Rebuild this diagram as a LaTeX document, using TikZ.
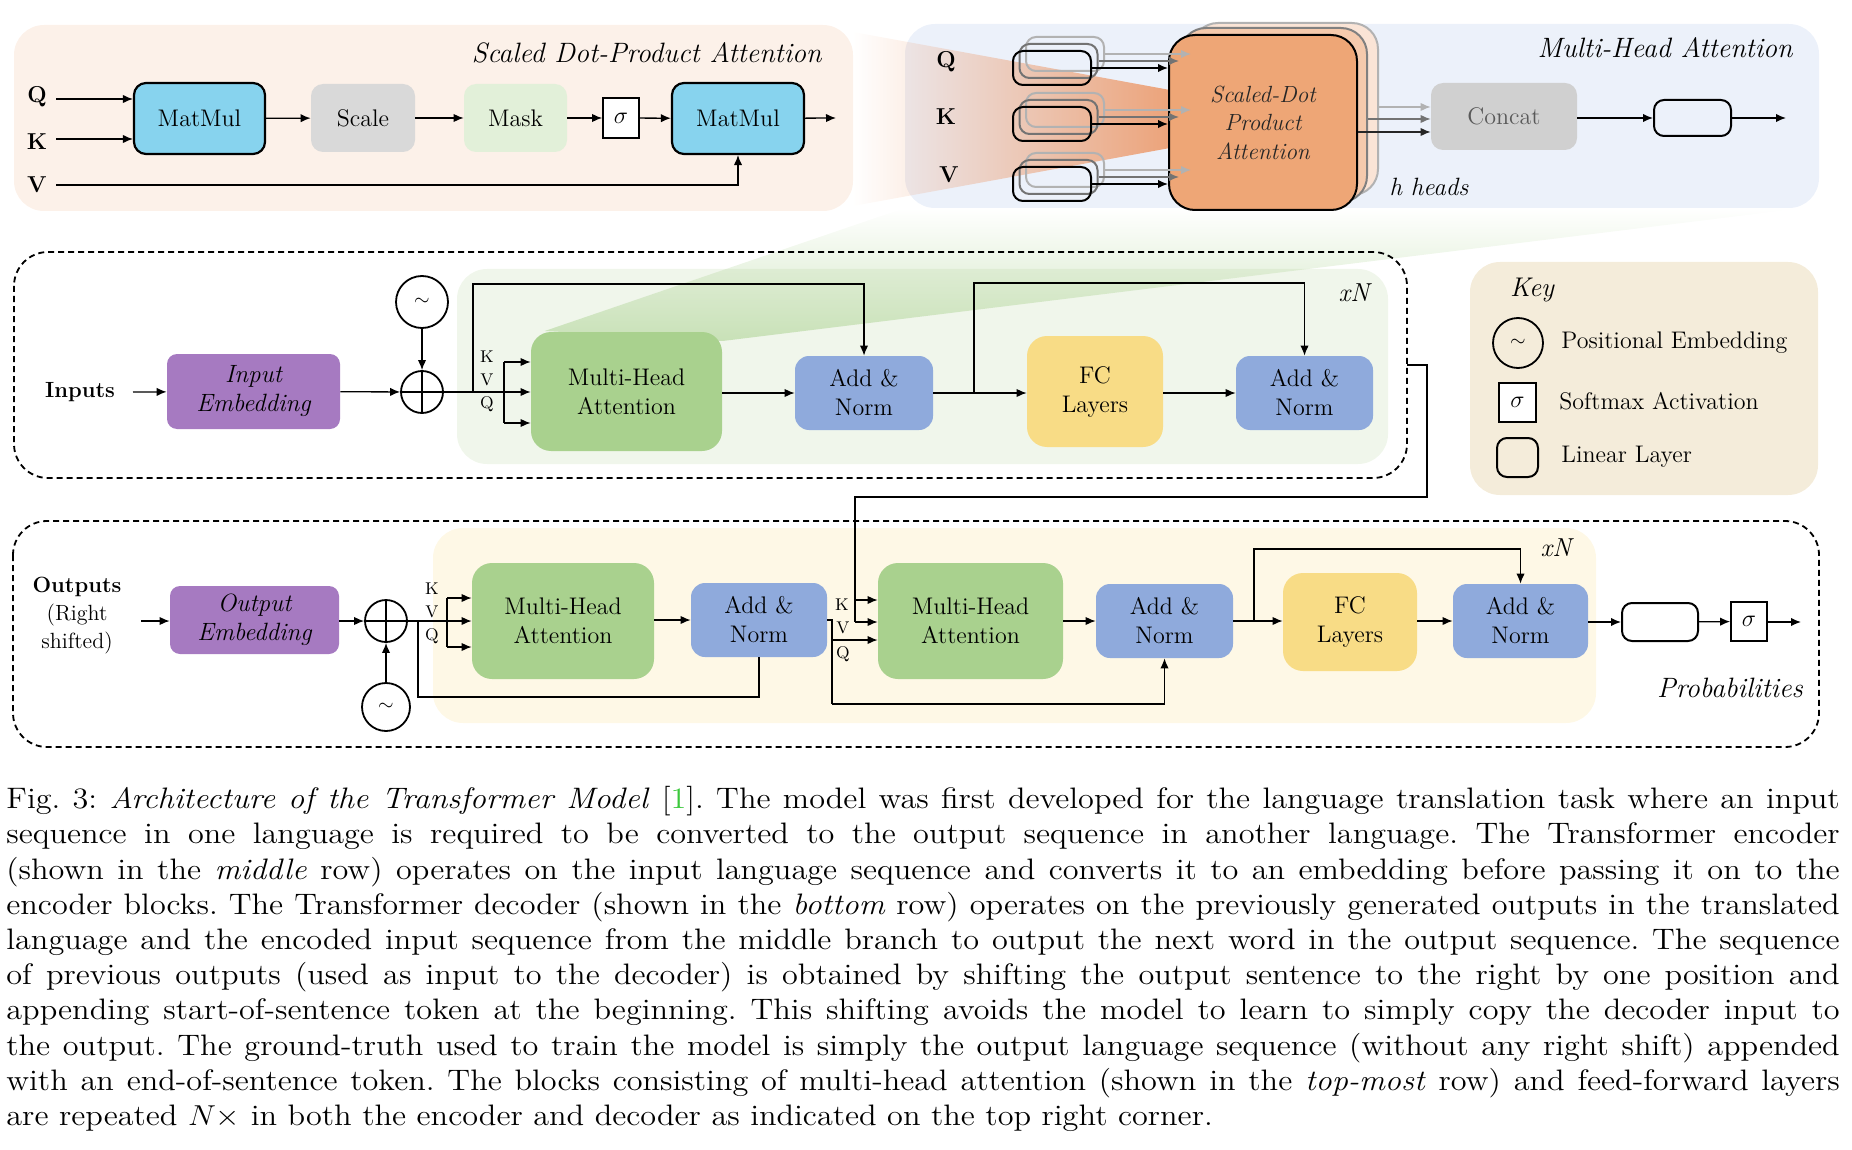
\documentclass[tikz,border=0pt]{standalone}
\usepackage{graphicx}
\usetikzlibrary{arrows.meta,fadings,calc}
\definecolor{sdpabg}{RGB}{252,241,233}
\definecolor{mhabg}{RGB}{236,241,250}
\definecolor{matmul}{RGB}{135,211,238}
\definecolor{scalec}{RGB}{217,217,217}
\definecolor{maskc}{RGB}{226,240,217}
\definecolor{sdpaor}{RGB}{238,166,118}
\definecolor{wedgeor}{RGB}{236,150,100}
\definecolor{concatc}{RGB}{208,208,208}
\definecolor{purp}{RGB}{166,122,193}
\definecolor{mhag}{RGB}{169,209,142}
\definecolor{anb}{RGB}{143,170,220}
\definecolor{fcy}{RGB}{248,220,134}
\definecolor{encbg}{RGB}{240,246,235}
\definecolor{decbg}{RGB}{254,248,230}
\definecolor{keybg}{RGB}{244,236,218}
\definecolor{citeg}{RGB}{60,200,60}
\newcommand\mybox[7]{\node[#6, minimum width=#4*0.5pt, minimum height=#5*0.5pt] (#1) at (#2,#3) {#7};}
\newcommand\capline[1]{\scalebox{1.09}[1]{\makebox[841pt][s]{#1}}}
\newcommand\caplast[1]{\scalebox{1.09}[1]{#1}}
\begin{document}
\begin{tikzpicture}[x=0.5pt,y=-0.5pt,
  arr/.style={-{Latex[length=5pt,width=4.2pt]}, line width=0.65pt},
  ln/.style={line width=0.65pt},
  blk/.style={rounded corners=7pt, align=center, inner sep=0pt, font=\fontsize{12}{14.5}\selectfont},
  mmbox/.style={blk, fill=matmul, draw=black, line width=1.1pt, rounded corners=6pt},
  sigbox/.style={draw=black, line width=0.9pt, fill=white, inner sep=0pt, font=\fontsize{12}{14}\selectfont},
  linbox/.style={draw=black, line width=1pt, rounded corners=5pt, inner sep=0pt},
  embox/.style={blk, fill=purp, rounded corners=5pt, font=\fontsize{12.5}{14.5}\selectfont\itshape},
  mhbox/.style={blk, fill=mhag, rounded corners=10pt},
  anbox/.style={blk, fill=anb},
  fcbox/.style={blk, fill=fcy, rounded corners=10pt},
  sdbox/.style={blk, rounded corners=13pt, line width=1pt},
  circ/.style={circle, draw=black, line width=0.9pt, inner sep=0pt, font=\fontsize{10}{10}\selectfont},
  kvq/.style={font=\fontsize{8.5}{9}\selectfont, inner sep=0pt},
  qkv/.style={font=\fontsize{11.5}{12}\selectfont\bfseries, inner sep=0pt},
  ttl/.style={font=\fontsize{14}{15}\selectfont\itshape, inner sep=0pt},
  keytxt/.style={font=\fontsize{12}{13}\selectfont, inner sep=0pt, anchor=west},
  dashbox/.style={draw=black, line width=0.9pt, dash pattern=on 3pt off 2pt, rounded corners=17pt}
]
\useasboundingbox (0,0) rectangle (1852,1150);

% ---------- panels and regions ----------
\fill[sdpabg, rounded corners=15pt] (14,25) rectangle (853,211);
\fill[mhabg, rounded corners=15pt] (905,24) rectangle (1819,208);
\fill[encbg, rounded corners=15pt] (457,269) rectangle (1388,464);
\fill[decbg, rounded corners=15pt] (433,528) rectangle (1596,723);
\fill[keybg, rounded corners=15pt] (1470,262) rectangle (1818,495);

% ---------- wedges ----------
\fill[wedgeor, path fading=west, fill opacity=0.85] (853,32) -- (1170,90) -- (1170,148) -- (853,206) -- cycle;
\fill[mhag, path fading=north, fill opacity=0.55] (545,331) -- (723,341) -- (1805,208) -- (905,208) -- cycle;

% ---------- dashed blocks ----------
\draw[dashbox] (14,252) rectangle (1407,478);
\draw[dashbox] (13,521) rectangle (1819,747);

% ---------- Scaled Dot-Product Attention ----------
\node[ttl, anchor=base east] (ttl1) at (822,63) {Scaled Dot-Product Attention};
\node[qkv] (q1) at (37,97) {Q};
\node[qkv] (k1) at (37,142) {K};
\node[qkv] (v1) at (37,185) {V};
\coordinate (qin) at (56,99);
\coordinate (kin) at (56,139);
\coordinate (vin) at (56,185);
\mybox{mm1}{199.5}{118.5}{131}{71}{mmbox}{MatMul}
\mybox{scl}{363}{118}{104}{68}{blk, fill=scalec, rounded corners=6pt}{Scale}
\mybox{msk}{515.5}{118}{103}{68}{blk, fill=maskc, rounded corners=6pt}{Mask}
\mybox{sg1}{621}{118}{36}{40}{sigbox}{$\sigma$}
\mybox{mm2}{738}{118.5}{132}{71}{mmbox}{MatMul}
\coordinate (o1) at (836,118);
\draw[arr] (qin) -- (qin -| mm1.west);
\draw[arr] (kin) -- (kin -| mm1.west);
\draw[arr] (vin) -| (mm2.south);
\draw[arr] (mm1) -- (scl);
\draw[arr] (scl) -- (msk);
\draw[arr] (msk) -- (sg1);
\draw[arr] (sg1) -- (mm2);
\draw[arr] (mm2) -- (o1);

% ---------- Multi-Head Attention ----------
\node[ttl, anchor=base east] (ttl2) at (1793,58) {Multi-Head Attention};
\node[qkv] (q2) at (946,62) {Q};
\node[qkv] (k2) at (946,117) {K};
\node[qkv] (v2) at (949,175) {V};
\foreach \r/\yy in {q/68,k/124,v/184}{
  \mybox{l\r3}{1065}{\yy-14}{78}{34}{linbox, draw=black!30}{}
  \mybox{l\r2}{1058.5}{\yy-7}{78}{34}{linbox, draw=black!55}{}
  \mybox{l\r1}{1052}{\yy}{78}{34}{linbox}{}
}
\mybox{sd3}{1285}{109}{186}{172}{sdbox, fill=sdpaor!30!white, draw=black!30}{}
\mybox{sd2}{1273.5}{115}{187}{174}{sdbox, fill=sdpaor!60!white, draw=black!50}{}
\mybox{sd1}{1263}{122.5}{188}{175}{sdbox, fill=sdpaor, draw=black, font=\fontsize{11.7}{14.3}\selectfont\itshape, text=black!85}{Scaled-Dot\\Product\\Attention}
\foreach \r in {q,k,v}{
  \draw[arr, black!30] (l\r3.east) -- (l\r3.east -| sd3.west);
  \draw[arr, black!55] (l\r2.east) -- (l\r2.east -| sd2.west);
  \draw[arr] (l\r1.east) -- (l\r1.east -| sd1.west);
}
\mybox{cc}{1504}{116.5}{146}{67}{blk, fill=concatc, rounded corners=6pt, text=black!65}{Concat}
\draw[arr, black!30] ($(sd3.east)+(0,-2)$) -- ($(cc.west)+(0,-9.5)$);
\draw[arr, black!55] ($(sd2.east)+(0,4)$) -- ($(cc.west)+(0,2.5)$);
\draw[arr, black!85] ($(sd1.east)+(0,9.5)$) -- ($(cc.west)+(0,15.5)$);
\mybox{lo}{1692.5}{118}{77}{36}{linbox}{}
\coordinate (o2) at (1786,118);
\draw[arr] (cc.east |- lo.west) -- (lo.west);
\draw[arr] (lo) -- (o2);
\node[font=\fontsize{12.5}{13}\selectfont\itshape, inner sep=0pt] (hh) at (1429,187) {h heads};

% ---------- Encoder ----------
\node[font=\fontsize{11}{12}\selectfont\bfseries, inner sep=0pt] (inp) at (80,392) {Inputs};
\coordinate (inpa) at (133,392);
\mybox{ie}{253.5}{391.5}{173}{75}{embox}{Input\\Embedding}
\node[circ, minimum size=21pt] (p1) at (422,392) {};
\draw[line width=0.9pt] (p1.north) -- (p1.south) (p1.west) -- (p1.east);
\node[circ, minimum size=26pt] (t1) at (422,302) {$\sim$};
\draw[arr] (inpa) -- (ie);
\draw[arr] (ie) -- (p1);
\draw[arr] (t1) -- (p1);
\mybox{mha1}{626.5}{391.5}{191}{119}{mhbox}{Multi-Head\\Attention}
\mybox{an1}{864}{393}{138}{74}{anbox}{Add \&\\Norm}
\mybox{fc1}{1095}{391.5}{136}{111}{fcbox}{FC\\Layers}
\mybox{an2}{1304.5}{393}{137}{74}{anbox}{Add \&\\Norm}
\coordinate (e1) at (473,392);
\coordinate (e2) at (504,392);
\coordinate (e1t) at (473,284);
\coordinate (ek) at (504,362);
\coordinate (eq) at (504,423);
\draw[ln] (p1.east) -- (e2);
\draw[arr] (e1) -- (e1t) -| (an1.north);
\draw[ln] (ek) -- (eq);
\draw[arr] (ek) -- (ek -| mha1.west);
\draw[arr] (e2) -- (e2 -| mha1.west);
\draw[arr] (eq) -- (eq -| mha1.west);
\node[kvq] (lk1) at (487,357) {K};
\node[kvq] (lv1) at (487,380) {V};
\node[kvq] (lq1) at (487,404) {Q};
\draw[arr] (mha1.east |- an1.west) -- (an1.west);
\draw[arr] (an1) -- (fc1.west |- an1.east);
\coordinate (e3) at (974,393);
\coordinate (e3t) at (974,283);
\draw[arr] (e3) -- (e3t) -| (an2.north);
\draw[arr] (fc1.east |- an2.west) -- (an2.west);
\node[font=\fontsize{13}{14}\selectfont\itshape, inner sep=0pt] (xn1) at (1354,293) {xN};
\coordinate (eo0) at (1407,365);
\coordinate (eo1) at (1427,365);
\coordinate (eo2) at (1427,497);
\coordinate (eo3) at (855,497);
\coordinate (eo4) at (855,600);
\coordinate (eo5) at (855,622);

% ---------- Key ----------
\node[font=\fontsize{13.5}{14}\selectfont\itshape, inner sep=0pt] (keyt) at (1532,290) {Key};
\node[circ, minimum size=25pt] (kt) at (1518,343) {$\sim$};
\node[keytxt] (kt1) at (1561,343) {Positional Embedding};
\mybox{ks}{1517.5}{402.5}{37}{39}{sigbox}{$\sigma$}
\node[keytxt] (kt2) at (1559,401) {Softmax Activation};
\mybox{kl}{1517.5}{457.5}{41}{39}{linbox}{}
\node[keytxt] (kt3) at (1561,457) {Linear Layer};

% ---------- Decoder ----------
\node[align=center, inner sep=0pt, font=\fontsize{11}{14}\selectfont] (outs) at (77,616) {\textbf{Outputs}\\(Right\\shifted)};
\coordinate (oa) at (141,621);
\mybox{oe}{254.5}{620}{169}{68}{embox}{Output\\Embedding}
\node[circ, minimum size=21pt] (p2) at (386,621) {};
\draw[line width=0.9pt] (p2.north) -- (p2.south) (p2.west) -- (p2.east);
\node[circ, minimum size=24pt] (t2) at (386,707) {$\sim$};
\draw[arr] (oa) -- (oa -| oe.west);
\draw[arr] (oe.east |- p2.west) -- (p2.west);
\draw[arr] (t2) -- (p2);
\mybox{mhad1}{563}{621}{182}{116}{mhbox}{Multi-Head\\Attention}
\mybox{and1}{759}{620}{136}{74}{anbox}{Add \&\\Norm}
\mybox{mhad2}{970.5}{621}{185}{116}{mhbox}{Multi-Head\\Attention}
\mybox{and2}{1164.5}{621}{137}{74}{anbox}{Add \&\\Norm}
\mybox{fcd}{1350}{622}{134}{98}{fcbox}{FC\\Layers}
\mybox{and3}{1520.5}{621}{135}{74}{anbox}{Add \&\\Norm}
\mybox{lind}{1660}{622}{76}{38}{linbox}{}
\mybox{sgd}{1749}{621.5}{36}{39}{sigbox}{$\sigma$}
\coordinate (od) at (1801,622);
\coordinate (d1) at (418,621);
\coordinate (d1b) at (418,697);
\coordinate (d2) at (447,621);
\coordinate (dk) at (447,598);
\coordinate (dq) at (447,647);
\draw[ln] (p2.east) -- (d2);
\draw[ln] (d1) -- (d1b) -| (and1.south);
\draw[ln] (dk) -- (dq);
\draw[arr] (dk) -- (dk -| mhad1.west);
\draw[arr] (d2) -- (d2 -| mhad1.west);
\draw[arr] (dq) -- (dq -| mhad1.west);
\node[kvq] (lk2) at (432,589) {K};
\node[kvq] (lv2) at (432,612) {V};
\node[kvq] (lq2) at (432,636) {Q};
\draw[arr] (mhad1.east |- and1.west) -- (and1.west);
% encoder output into second attention
\draw[ln] (eo0) -- (eo1) -- (eo2) -- (eo3) -- (eo5);
\draw[arr] (eo4) -- (eo4 -| mhad2.west);
\draw[arr] (eo5) -- (eo5 -| mhad2.west);
% residual from first add&norm
\coordinate (d3) at (832,620);
\coordinate (d3q) at (832,640);
\coordinate (d3b) at (832,704);
\draw[ln] (and1.east) -- (d3) -- (d3b);
\draw[arr] (d3b) -| (and2.south);
\draw[arr] (d3q) -- (d3q -| mhad2.west);
\node[kvq] (lk3) at (842,605) {K};
\node[kvq] (lv3) at (843,628) {V};
\node[kvq] (lq3) at (843,654) {Q};
\draw[arr] (mhad2.east |- and2.west) -- (and2.west);
\draw[arr] (and2.east) -- (and2.east -| fcd.west);
\coordinate (d4) at (1254,621);
\coordinate (d4t) at (1254,549);
\draw[arr] (d4) -- (d4t) -| (and3.north);
\draw[arr] (fcd.east |- and3.west) -- (and3.west);
\draw[arr] (and3.east |- lind.west) -- (lind.west);
\draw[arr] (lind) -- (sgd);
\draw[arr] (sgd.east |- od) -- (od);
\node[font=\fontsize{13}{14}\selectfont\itshape, inner sep=0pt] (xn2) at (1556,548) {xN};
\node[font=\fontsize{14}{15}\selectfont\itshape, inner sep=0pt] (prob) at (1730,688) {Probabilities};

% ---------- Caption ----------
\node[anchor=north west, inner sep=0pt, text width=921pt, align=left, font=\fontsize{14.8}{17.6}\selectfont] (cap) at (6,786) {\frenchspacing\spaceskip=0pt\xspaceskip=0pt
\capline{Fig. 3: \textit{Architecture of the Transformer Model} [{\color{citeg}1}]. The model was first developed for the language translation task where an input}\\
\capline{sequence in one language is required to be converted to the output sequence in another language. The Transformer encoder}\\
\capline{(shown in the \textit{middle} row) operates on the input language sequence and converts it to an embedding before passing it on to the}\\
\capline{encoder blocks. The Transformer decoder (shown in the \textit{bottom} row) operates on the previously generated outputs in the translated}\\
\capline{language and the encoded input sequence from the middle branch to output the next word in the output sequence. The sequence}\\
\capline{of previous outputs (used as input to the decoder) is obtained by shifting the output sentence to the right by one position and}\\
\capline{appending start-of-sentence token at the beginning. This shifting avoids the model to learn to simply copy the decoder input to}\\
\capline{the output. The ground-truth used to train the model is simply the output language sequence (without any right shift) appended}\\
\capline{with an end-of-sentence token. The blocks consisting of multi-head attention (shown in the \textit{top-most} row) and feed-forward layers}\\
\caplast{are repeated $N\times$ in both the encoder and decoder as indicated on the top right corner.}};
\end{tikzpicture}
\end{document}
